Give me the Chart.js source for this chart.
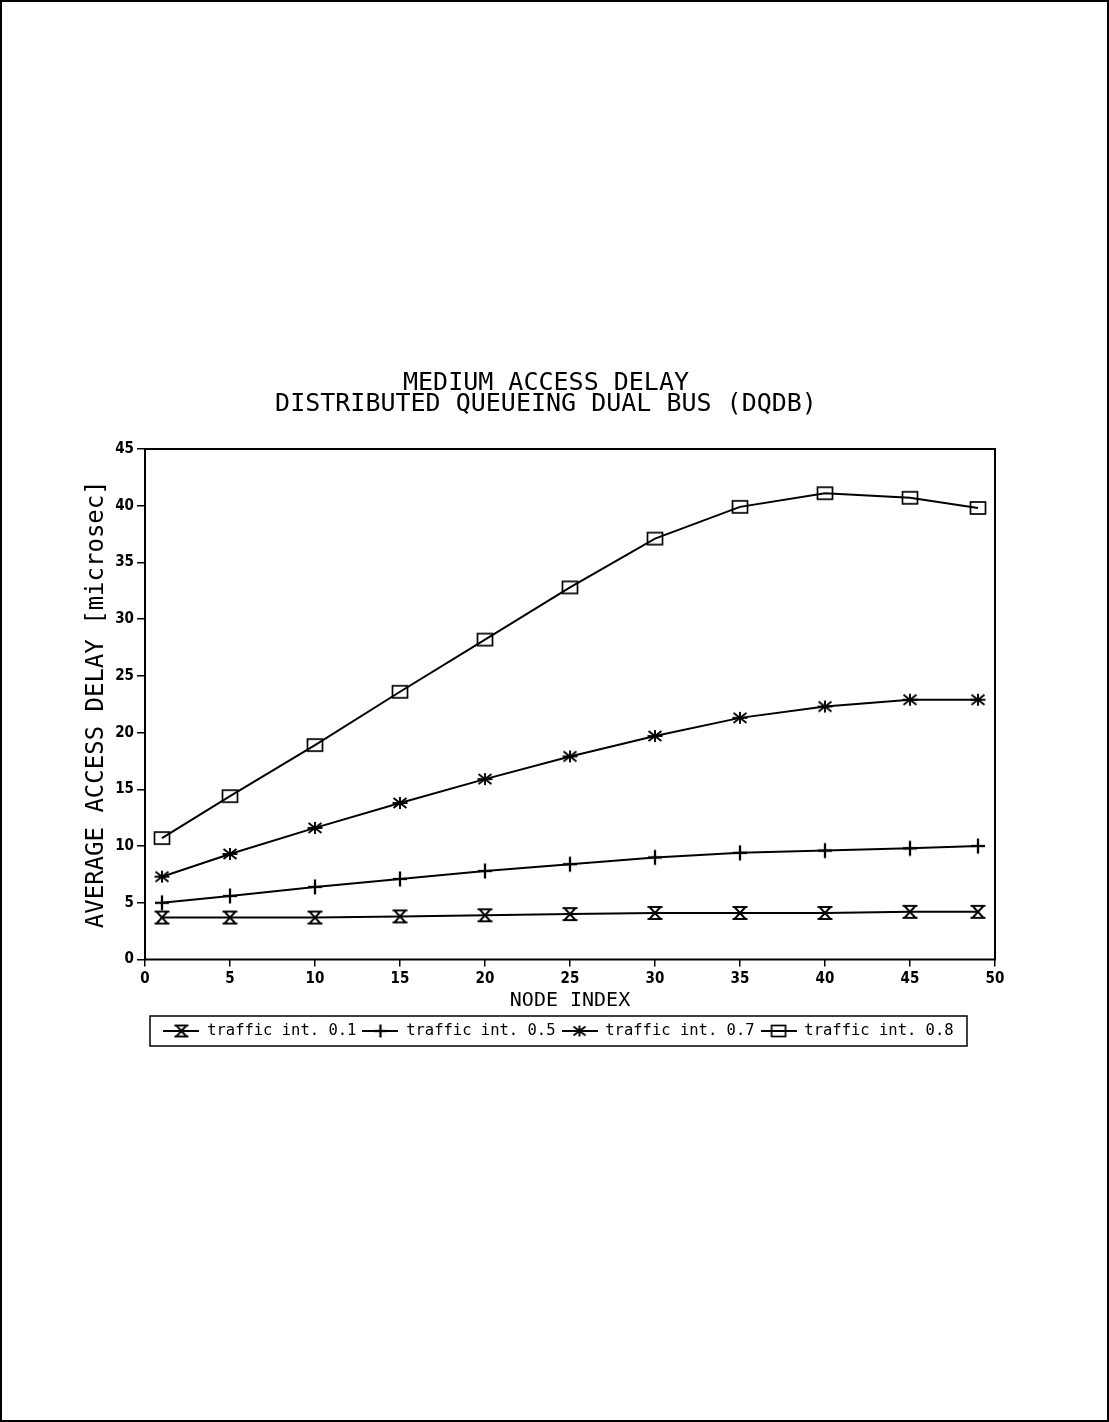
<!DOCTYPE html>
<html>
<head>
<meta charset="utf-8">
<title>Medium Access Delay - DQDB</title>
<script src="https://cdn.jsdelivr.net/npm/chart.js@4.4.1/dist/chart.umd.min.js"></script>
<style>
  html, body { margin: 0; padding: 0; background: #fff; }
  #page { position: relative; width: 1109px; height: 1422px; overflow: hidden; }
  #frame { position: absolute; left: 0; top: 0; width: 1109px; height: 1422px; box-sizing: border-box; border: 2px solid #000; }
  #delayChart { position: absolute; left: 0; top: 0; }
</style>
</head>
<body>
<div id="page">
  <div id="frame"></div>
  <canvas id="delayChart" width="1109" height="1422"></canvas>
</div>
<script>
// node positions along the bus
const nodeIndex = [1, 5, 10, 15, 20, 25, 30, 35, 40, 45, 49];

// average access delay [microsec]
const traffic01 = [3.7, 3.7, 3.7, 3.8, 3.9, 4.0, 4.1, 4.1, 4.1, 4.2, 4.2];
const traffic05 = [5.0, 5.6, 6.4, 7.1, 7.8, 8.4, 9.0, 9.4, 9.6, 9.8, 10.0];
const traffic07 = [7.3, 9.3, 11.6, 13.8, 15.9, 17.9, 19.7, 21.3, 22.3, 22.9, 22.9];
const traffic08 = [10.7, 14.4, 18.9, 23.6, 28.2, 32.8, 37.1, 39.9, 41.1, 40.7, 39.8];

const seriesLabels = ["traffic int. 0.1", "traffic int. 0.5", "traffic int. 0.7", "traffic int. 0.8"];
const xTicks = [0, 5, 10, 15, 20, 25, 30, 35, 40, 45, 50];
const yTicks = [0, 5, 10, 15, 20, 25, 30, 35, 40, 45];

const MONO = "'DejaVu Sans Mono', 'Liberation Mono', monospace";
const NARROW = "'Liberation Sans Narrow', 'DejaVu Sans Condensed', 'Liberation Sans', sans-serif";

// plotter style markers drawn into small canvases
function makeMarker(kind, w, h, mw, mh, withLine) {
  const c = document.createElement("canvas");
  c.width = w;
  c.height = h;
  const g = c.getContext("2d");
  g.strokeStyle = "#000";
  g.lineWidth = 1.9;
  const cx = w / 2, cy = h / 2;
  const l = cx - mw / 2, r = cx + mw / 2, t = cy - mh / 2, b = cy + mh / 2;
  const seg = (x1, y1, x2, y2) => { g.beginPath(); g.moveTo(x1, y1); g.lineTo(x2, y2); g.stroke(); };

  if (withLine) seg(0, cy, w, cy);

  if (kind === "hourglass") {
    seg(l, t, r, t);
    seg(l, b, r, b);
    seg(l + 2, t, r - 2, b);
    seg(r - 2, t, l + 2, b);
  } else if (kind === "plus") {
    g.lineWidth = 2.3;
    seg(l, cy, r, cy);
    seg(cx, t, cx, b);
  } else if (kind === "star") {
    seg(l, cy, r, cy);
    seg(cx, t, cx, b);
    seg(l + 1, t + 1, r - 1, b - 1);
    seg(r - 1, t + 1, l + 1, b - 1);
  } else if (kind === "square") {
    g.lineWidth = 1.7;
    g.strokeRect(l, t, mw, mh);
  }
  return c;
}

const kinds = ["hourglass", "plus", "star", "square"];
const pointIcons = kinds.map(k => makeMarker(k, 20, 20, k === "plus" ? 14 : 15, k === "plus" ? 15 : 12, false));
const legendIcons = kinds.map(k => makeMarker(k, 36, 16, k === "plus" ? 13 : 14, k === "plus" ? 13 : 11, true));

const seriesValues = [traffic01, traffic05, traffic07, traffic08];

const datasets = seriesValues.map((vals, i) => ({
  label: seriesLabels[i],
  data: nodeIndex.map((x, j) => ({ x: x, y: vals[j] })),
  borderColor: "#000",
  borderWidth: 2,
  backgroundColor: "#000",
  pointStyle: pointIcons[i],
  pointRadius: 7,
  tension: 0
}));

// fixes the spots of title / legend so they sit where the original has them
const layoutFix = {
  id: "layoutFix",
  beforeDraw(chart) {
    const t = chart.titleBlock;
    t.left = 97;
    t.right = 995;
    const lg = chart.legend;
    lg.left = 150;
    lg.right = 967;
    lg.top = 1031 - 6 - 15.5 / 2;
  },
  afterDraw(chart) {
    const ctx = chart.ctx;
    const a = chart.chartArea;
    ctx.save();
    ctx.strokeStyle = "#000";
    ctx.lineWidth = 2;
    ctx.strokeRect(a.left, a.top, a.right - a.left, a.bottom - a.top);
    ctx.lineWidth = 1.5;
    ctx.strokeRect(150, 1016, 817, 30);
    ctx.restore();
  }
};

new Chart(document.getElementById("delayChart"), {
  type: "line",
  data: { datasets: datasets },
  options: {
    responsive: false,
    animation: false,
    devicePixelRatio: 1,
    layout: { padding: { top: 372.5, left: 85, right: 114, bottom: 380 } },
    plugins: {
      title: {
        display: true,
        text: ["MEDIUM ACCESS DELAY", "DISTRIBUTED QUEUEING DUAL BUS (DQDB)"],
        color: "#000",
        font: { family: MONO, size: 25, weight: "normal", lineHeight: 0.84 },
        padding: { top: 0, bottom: 34.5 }
      },
      legend: {
        display: true,
        position: "bottom",
        labels: {
          color: "#000",
          font: { family: MONO, size: 15.5 },
          usePointStyle: true,
          pointStyleWidth: 36,
          padding: 6,
          generateLabels: chart => chart.data.datasets.map((ds, i) => ({
            text: ds.label,
            pointStyle: legendIcons[i],
            fillStyle: "#000",
            strokeStyle: "#000",
            lineWidth: 0,
            hidden: false,
            datasetIndex: i,
            fontColor: "#000"
          }))
        }
      },
      tooltip: { enabled: false }
    },
    scales: {
      x: {
        type: "linear",
        min: 0,
        max: 50,
        afterBuildTicks: s => { s.ticks = xTicks.map(v => ({ value: v })); },
        afterFit: s => { s.height = 51; },
        border: { display: false },
        grid: { drawOnChartArea: false, drawTicks: true, tickLength: 7, color: "#000", lineWidth: 1.5 },
        ticks: { color: "#000", padding: 4, maxRotation: 0, font: { family: NARROW, size: 15, weight: "bold" } },
        title: {
          display: true,
          text: "NODE INDEX",
          color: "#000",
          padding: { top: 0, bottom: 0 },
          font: { family: MONO, size: 20, lineHeight: 1 }
        }
      },
      y: {
        type: "linear",
        min: 0,
        max: 45,
        afterBuildTicks: s => { s.ticks = yTicks.map(v => ({ value: v })); },
        afterFit: s => { s.width = 60; },
        border: { display: false },
        grid: { drawOnChartArea: false, drawTicks: true, tickLength: 8, color: "#000", lineWidth: 1.5 },
        ticks: { color: "#000", padding: 3, font: { family: NARROW, size: 15, weight: "bold" } },
        title: {
          display: true,
          text: "AVERAGE ACCESS DELAY [microsec]",
          color: "#000",
          padding: { top: 0, bottom: 0 },
          font: { family: MONO, size: 24, lineHeight: 1 }
        }
      }
    }
  },
  plugins: [layoutFix]
});
</script>
</body>
</html>
